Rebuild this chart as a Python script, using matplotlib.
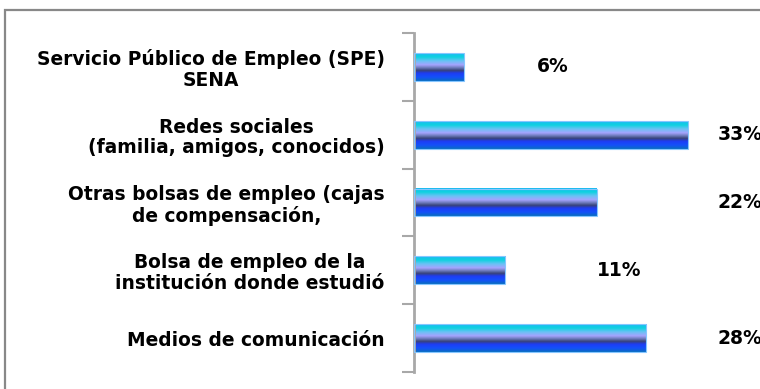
import numpy as np
import matplotlib.pyplot as plt
from matplotlib.colors import LinearSegmentedColormap
from matplotlib.patches import Rectangle

categories = [
    "Servicio Público de Empleo (SPE)\nSENA",
    "Redes sociales\n(familia, amigos, conocidos)",
    "Otras bolsas de empleo (cajas\nde compensación,",
    "Bolsa de empleo de la\ninstitución donde estudió",
    "Medios de comunicación",
]
values = [6, 33, 22, 11, 28]
labels = ["6%", "33%", "22%", "11%", "28%"]

# where each percentage label sits along the x axis
label_x = [14.8, 36.6, 36.6, 22.0, 36.6]

fig = plt.figure(figsize=(7.6, 3.89), dpi=100)
ax = fig.add_axes([414 / 760, 17 / 389, 346 / 760, 339 / 389])

# striped blue gradient used to fill the bars (top -> bottom)
stripes = LinearSegmentedColormap.from_list("stripes", [
    (0.00, "#1cb8f2"),
    (0.14, "#0ed2e0"),
    (0.28, "#68c2f4"),
    (0.42, "#a6a4ff"),
    (0.53, "#6a78b8"),
    (0.62, "#384278"),
    (0.72, "#1e3cf4"),
    (0.86, "#1450fa"),
    (1.00, "#086ebe"),
])
grad = np.linspace(0, 1, 256).reshape(-1, 1)

y = np.arange(len(categories))
bars = ax.barh(y, values, height=0.41, facecolor="none",
               edgecolor="#86c6ff", linewidth=0.8, zorder=3)
for b in bars:
    x0, y0 = b.get_x(), b.get_y()
    x1, y1 = x0 + b.get_width(), y0 + b.get_height()
    ax.imshow(grad, cmap=stripes, aspect="auto", origin="upper",
              extent=(x0, x1, y1, y0), zorder=2, interpolation="bilinear")

for yi, lx, txt in zip(y, label_x, labels):
    ax.text(lx, yi, txt, ha="left", va="center", fontsize=13.5,
            fontweight="bold", family="DejaVu Sans", clip_on=False)

ax.set_xlim(0, 41.7)
ax.set_ylim(len(categories) - 0.5, -0.5)

ax.set_yticks(y)
ax.set_yticklabels(categories, fontsize=13.4, fontweight="bold",
                   family="DejaVu Sans", ha="right", multialignment="center",
                   linespacing=1.1)
ax.set_yticks(np.arange(len(categories) + 1) - 0.5, minor=True)
ax.tick_params(axis="y", which="major", length=0, pad=21)
ax.tick_params(axis="y", which="minor", length=9, width=1.5, color="#a8a8a8")
ax.set_xticks([])

for side in ["top", "right", "bottom"]:
    ax.spines[side].set_visible(False)
ax.spines["left"].set_color("#a8a8a8")
ax.spines["left"].set_linewidth(2)

# outer chart frame, running off the right and bottom edges
fig.patches.append(Rectangle((5 / 760, -0.2), 1.1, 1.2 - 10 / 389,
                             transform=fig.transFigure, fill=False,
                             edgecolor="#888888", linewidth=1.6))

fig.savefig("out.png", dpi=100)
